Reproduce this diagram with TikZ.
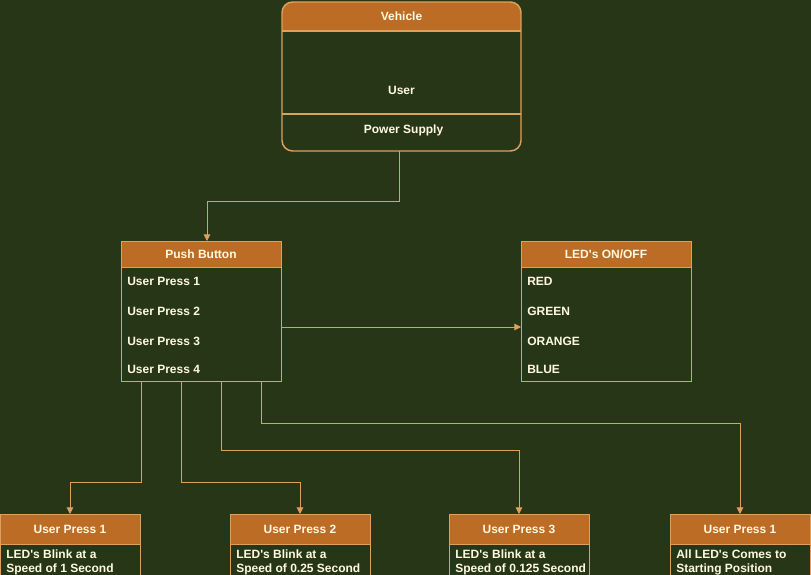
\documentclass[tikz,border=0pt]{standalone}
\usepackage{fontspec}
\setmainfont{Liberation Sans}[Ligatures=TeXOff]
\usetikzlibrary{arrows.meta}
\definecolor{bg}{HTML}{283618}
\definecolor{hdr}{HTML}{BC6C25}
\definecolor{strk}{HTML}{DDA15E}
\definecolor{txt}{HTML}{FEFAE0}
\begin{document}
\begin{tikzpicture}[x=0.75pt,y=-0.75pt,
  font=\bfseries\fontsize{9}{10.5}\selectfont, text=txt,
  box/.style={draw=strk, line width=0.75pt, anchor=north west, inner sep=0pt, outer sep=0pt},
  lbl/.style={anchor=west, inner sep=0pt},
  ttl/.style={inner sep=0pt},
  conn/.style={draw=strk, line width=0.75pt, -{Triangle[width=5pt,length=5pt]}}]
\fill[bg] (0,0) rectangle (811,575);
\useasboundingbox (0,0) rectangle (811,575);

% Vehicle
\begin{scope}
\clip[rounded corners=8pt] (282,2) rectangle (521,151);
\fill[hdr] (282,2) rectangle (521,31);
\end{scope}
\draw[strk, line width=1.1pt] (282,31) -- (521,31);
\draw[strk, line width=1.1pt] (282,114) -- (521,114);
\node[box, line width=1.1pt, rounded corners=8pt, minimum width=179.25pt, minimum height=111.75pt] (veh) at (282,2) {};
\node[ttl] (vehT) at (401.5,16.5) {Vehicle};
\node[ttl] (vehU) at (401.5,90.5) {User};
\node[ttl] (vehP) at (403.5,130.5) {Power Supply};

% Push Button
\fill[hdr] (121,241) rectangle (281,267);
\node[box, minimum width=120pt, minimum height=105pt] (pb) at (121,241) {};
\draw[strk, line width=0.75pt] (121,267) -- (281,267);
\node[ttl] (pbT) at (201,254.5) {Push Button};
\node[lbl] (pb1) at (127,281) {User Press 1};
\node[lbl] (pb2) at (127,311) {User Press 2};
\node[lbl] (pb3) at (127,341) {User Press 3};
\node[lbl] (pb4) at (127,369) {User Press 4};

% LEDs
\fill[hdr] (521,241) rectangle (691,267);
\node[box, minimum width=127.5pt, minimum height=105pt] (led) at (521,241) {};
\draw[strk, line width=0.75pt] (521,267) -- (691,267);
\node[ttl] (ledT) at (606,254.5) {LED's ON/OFF};
\node[lbl] (led1) at (527,281) {RED};
\node[lbl] (led2) at (527,311) {GREEN};
\node[lbl] (led3) at (527,341) {ORANGE};
\node[lbl] (led4) at (527,369) {BLUE};

% bottom boxes
\foreach \n/\x/\t/\la/\lb in {b1/0/User Press 1/LED's Blink at a/Speed of 1 Second,
                               b2/230/User Press 2/LED's Blink at a/Speed of 0.25 Second,
                               b3/449/User Press 3/LED's Blink at a/Speed of 0.125 Second,
                               b4/670/User Press 1/All LED's Comes to/Starting Position}{
  \fill[hdr] (\x,514) rectangle ++(140,30);
  \node[box, minimum width=105pt, minimum height=60pt] (\n) at (\x,514) {};
  \draw[strk, line width=0.75pt] (\x,544) -- ++(140,0);
  \node[ttl] (\n T) at ([xshift=52.5pt,yshift=-11.25pt]\n.north west) {\t};
  \node[anchor=north west, inner sep=0pt, align=left] (\n L) at ([xshift=4.5pt,yshift=-27pt]\n.north west) {\la\\\lb};
}

% connectors
\draw[conn] (veh.south -| 399,0) -- (399,201) -| (pb.north -| 207,0);
\draw[conn] (pb.east |- 0,327) -- (led.west |- 0,327);
\draw[conn] (pb.south -| 141,0) -- (141,482) -| (b1.north);
\draw[conn] (pb.south -| 181,0) -- (181,482) -| (b2.north);
\draw[conn] (pb.south -| 221,0) -- (221,450) -| (b3.north);
\draw[conn] (pb.south -| 261,0) -- (261,423) -| (b4.north);
\end{tikzpicture}
\end{document}
